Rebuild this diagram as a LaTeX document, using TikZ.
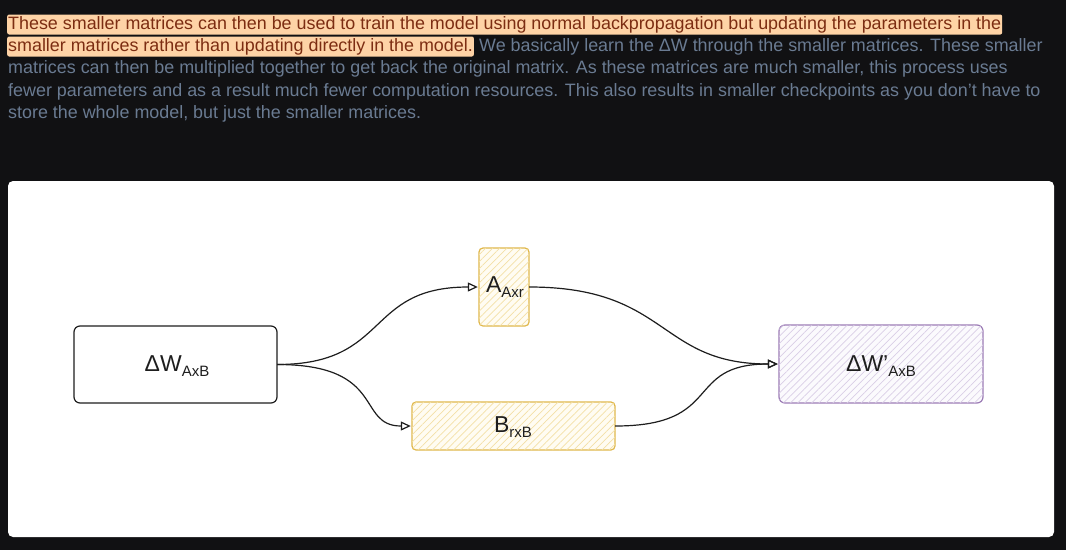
\documentclass[tikz,border=0pt]{standalone}
\usepackage{fontspec}
\setmainfont{Liberation Sans}
\usetikzlibrary{arrows.meta,patterns.meta}
\definecolor{bg}{HTML}{111113}
\definecolor{hl}{HTML}{FED3A6}
\definecolor{hltext}{HTML}{7C2D12}
\definecolor{graytext}{HTML}{6A7B92}
\definecolor{ink}{HTML}{1E1E1E}
\definecolor{yborder}{HTML}{E0B84C}
\definecolor{yhatch}{HTML}{F3E0A6}
\definecolor{yfill}{HTML}{FFFCF2}
\definecolor{pborder}{HTML}{9C7CB6}
\definecolor{phatch}{HTML}{D9CEE6}
\definecolor{pfill}{HTML}{FBFAFD}
\tikzset{
  para/.style={anchor=base west, inner sep=0pt, font=\fontsize{17.9}{20}\selectfont, text=graytext},
  hlpara/.style={anchor=base west, inner xsep=1pt, inner ysep=0pt, text height=14.5pt, text depth=5.5pt,
     fill=hl, rounded corners=2pt, font=\fontsize{17.9}{20}\selectfont, text=hltext},
  plainbox/.style={draw=ink, line width=1.2pt, rounded corners=6pt, fill=white},
  ybox/.style={draw=yborder, line width=1.2pt, rounded corners=4pt, fill=yfill,
     postaction={pattern={Lines[angle=45,distance=5pt,line width=0.7pt]}, pattern color=yhatch}},
  pbox/.style={draw=pborder, line width=1.2pt, rounded corners=6pt, fill=pfill,
     postaction={pattern={Lines[angle=45,distance=5pt,line width=0.7pt]}, pattern color=phatch}},
  lbl/.style={font=\fontsize{23}{24}\selectfont, text=ink, inner sep=0pt},
  conn/.style={draw=ink, line width=1.2pt, -{Triangle[open, length=10pt, width=9pt]}},
}
\newcommand{\subtxt}[1]{\raisebox{-0.4ex}{\fontsize{15}{15}\selectfont #1}}
\begin{document}
\begin{tikzpicture}[x=1pt,y=-1pt]
\fill[bg] (0,0) rectangle (1066,550);
\useasboundingbox (0,0) rectangle (1066,550);
% paragraph
\node[hlpara] (l1) at (7,29) {These smaller matrices can then be used to train the model using normal backpropagation but updating the parameters in the};
\node[hlpara] (l2a) at (7,51) {smaller matrices rather than updating directly in the model.};
\node[para] (l2b) at ([xshift=5pt]l2a.base east) {We basically learn the ΔW through the smaller matrices. These smaller};
\node[para] (l3) at (8,73.5) {matrices can then be multiplied together to get back the original matrix. As these matrices are much smaller, this process uses};
\node[para] (l4) at (8,96) {fewer parameters and as a result much fewer computation resources. This also results in smaller checkpoints as you don’t have to};
\node[para] (l5) at (8,118.5) {store the whole model, but just the smaller matrices.};
% panel
\fill[white, rounded corners=5pt] (8,181) rectangle (1054,537);
% boxes
\path[plainbox] (74,326) rectangle (277,403);
\node[inner sep=0pt, minimum width=203pt, minimum height=77pt] (dw) at (175.5,364.5) {};
\path[ybox] (479,248) rectangle (529,326);
\node[inner sep=0pt, minimum width=50pt, minimum height=78pt] (a) at (504,287) {};
\path[ybox] (412,402) rectangle (615,450);
\node[inner sep=0pt, minimum width=203pt, minimum height=48pt] (b) at (513.5,426) {};
\path[pbox] (779,325) rectangle (983,403);
\node[inner sep=0pt, minimum width=204pt, minimum height=78pt] (dwp) at (881,364) {};
% labels
\node[lbl] (dwl) at (177,366) {ΔW\subtxt{AxB}};
\node[lbl] (al) at (505,287) {A\subtxt{Axr}};
\node[lbl] (bl) at (513,427) {B\subtxt{rxB}};
\node[lbl] (dwpl) at (881,366) {ΔW’\subtxt{AxB}};
% connectors
\draw[conn] (dw.east) to[out=0,in=180,looseness=1.35] ([xshift=-1pt]a.west);
\draw[conn] (dw.east) .. controls +(110,0) and +(-55,0) .. ([xshift=-1pt]b.west);
\draw[conn] (a.east) .. controls +(140,0) and +(-120,0) .. ([xshift=-1pt]dwp.west);
\draw[conn] (b.east) .. controls +(110,0) and +(-95,0) .. ([xshift=-1pt]dwp.west);
\end{tikzpicture}
\end{document}
